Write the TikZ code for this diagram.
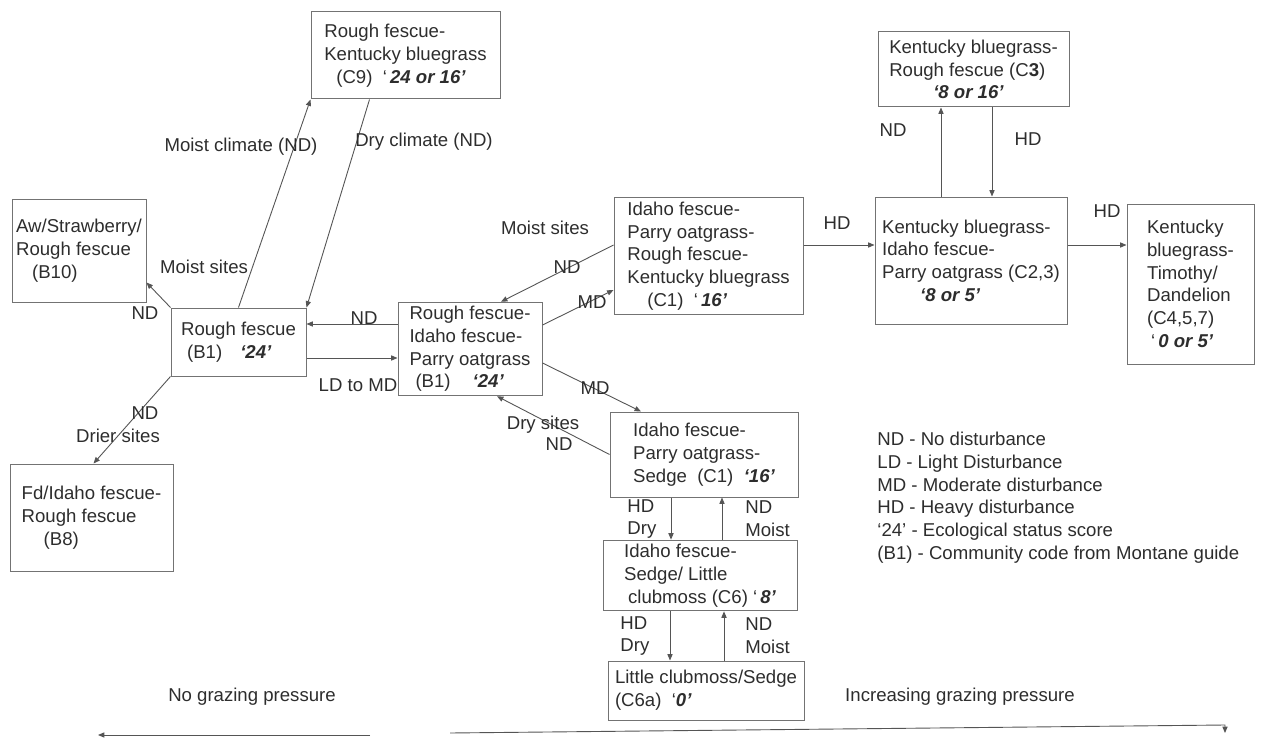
\documentclass[tikz,border=0pt]{standalone}
\usepackage{fontspec}
\setmainfont{Liberation Sans}
\usepackage{xcolor}
\usetikzlibrary{arrows.meta, positioning, calc}
\definecolor{line-grey}{RGB}{85,85,85}
\definecolor{box-grey}{RGB}{115,115,115}
\definecolor{text-grey}{RGB}{45,45,45}
\newcommand{\score}[1]{{\bfseries\itshape #1}}

\begin{document}
\begin{tikzpicture}[x=0.5pt, y=-0.5pt,
    font=\fontsize{9.3}{11.35}\selectfont,
    box/.style={rectangle, draw=box-grey, line width=0.5pt,
                align=left, inner sep=2pt, text=text-grey},
    lbl/.style={inner sep=0pt, text=text-grey},
    arr/.style={-{Triangle[length=3.2pt, width=2.6pt]}, line width=0.45pt, color=line-grey}
  ]
  \useasboundingbox (0,0) rectangle (1264,738);

  % communities
  \node[box, minimum width=94.5pt, minimum height=43.5pt] (c9) at (405.5,55.5)
    {Rough fescue-\\Kentucky bluegrass\\\hspace*{6pt}(C9)\ \ `\,\score{24 or 16'}};
  \node[box, minimum width=67pt, minimum height=51.5pt] (b10) at (79,250.5)
    {Aw/Strawberry/\\Rough fescue\\\hspace*{8pt}(B10)};
  \node[box, minimum width=67.5pt, minimum height=34pt] (b1) at (238.5,342)
    {Rough fescue\\\hspace*{3pt}(B1)\hspace{9pt}\score{`24'}};
  \node[box, minimum width=72pt, minimum height=46pt] (mid) at (470,349)
    {Rough fescue-\\Idaho fescue-\\Parry oatgrass\\\hspace*{3pt}(B1)\hspace{11pt}\score{`24'}};
  \node[box, minimum width=94.5pt, minimum height=57pt] (c1k) at (708.5,256)
    {Idaho fescue-\\Parry oatgrass-\\Rough fescue-\\Kentucky bluegrass\\\hspace*{10pt}(C1)\ \ `\,\score{16'}};
  \node[box, minimum width=95.5pt, minimum height=37.5pt] (c3) at (973.5,69.5)
    {Kentucky bluegrass-\\Rough fescue (C\textbf{3})\\\hspace*{22pt}\score{`8 or 16'}};
  \node[box, minimum width=96pt, minimum height=63.5pt] (c23) at (971,260.5)
    {Kentucky bluegrass-\\Idaho fescue-\\Parry oatgrass (C2,3)\\\hspace*{19pt}\score{`8 or 5'}};
  \node[box, minimum width=63.5pt, minimum height=80pt] (c457) at (1190.5,284)
    {Kentucky\\bluegrass-\\Timothy/\\Dandelion\\(C4,5,7)\\\hspace*{2pt}`\,\score{0 or 5'}};
  \node[box, minimum width=81.5pt, minimum height=53.5pt] (b8) at (91.5,517.5)
    {Fd/Idaho fescue-\\Rough fescue\\\hspace*{11pt}(B8)};
  \node[box, minimum width=94pt, minimum height=42.5pt] (c1s) at (704,454.5)
    {Idaho fescue-\\Parry oatgrass-\\Sedge\ \ (C1)\ \ \score{`16'}};
  \node[box, minimum width=97pt, minimum height=34.5pt] (c6) at (700,575.5)
    {Idaho fescue-\\Sedge/ Little\\\hspace*{2pt}clubmoss (C6) `\,\score{8'}};
  \node[box, minimum width=98pt, minimum height=29.5pt] (c6a) at (706,690.5)
    {Little clubmoss/Sedge\\(C6a)\ \ `\score{0'}};

  % transitions
  \draw[arr] (b1.north) -- (c9.south west);
  \draw[arr] ([xshift=-18pt]c9.south) -- (b1.north east);
  \draw[arr] (b1.north west) -- ([yshift=-16pt]b10.east);
  \draw[arr] ([yshift=12.5pt]mid.west) -- ([yshift=9pt]b1.east);
  \draw[arr] ([yshift=-8pt]b1.east) -- ([yshift=-4.5pt]mid.west);
  \draw[arr] (b1.south west) -- ([xshift=1pt]b8.north);
  \draw[arr] ([yshift=5.5pt]c1k.west) -- ([xshift=15.5pt]mid.north);
  \draw[arr] ([yshift=12pt]mid.east) -- ([yshift=-17pt]c1k.west);
  \draw[arr] ([yshift=-7pt]mid.east) -- ([xshift=-31.5pt]c1s.north);
  \draw[arr] (c1s.west) -- ([xshift=13.5pt]mid.south);
  \draw[arr] ([yshift=5.5pt]c1k.east) -- ([yshift=7.75pt]c23.west);
  \draw[arr] ([xshift=-15pt]c23.north) -- ([xshift=-16.25pt]c3.south);
  \draw[arr] ([xshift=9.25pt]c3.south) -- ([xshift=10.5pt]c23.north);
  \draw[arr] ([yshift=7.75pt]c23.east) -- ([yshift=19.5pt]c457.west);
  \draw[arr] ([xshift=-16.5pt]c1s.south) -- ([xshift=-14.5pt]c6.north);
  \draw[arr] ([xshift=11pt]c6.north) -- ([xshift=9pt]c1s.south);
  \draw[arr] ([xshift=-15pt]c6.south) -- ([xshift=-18pt]c6a.north);
  \draw[arr] ([xshift=9pt]c6a.north) -- ([xshift=12pt]c6.south);

  % transition labels
  \node[lbl] (l-mclim) at (241,147) {Moist climate (ND)};
  \node[lbl] (l-dclim) at (424,142) {Dry climate (ND)};
  \node[lbl] (l-msite1) at (204,267) {Moist sites};
  \node[lbl] (l-nd1) at (145,313) {ND};
  \node[lbl] (l-nd2) at (364,318) {ND};
  \node[lbl] (l-ldmd) at (358,385) {LD to MD};
  \node[lbl] (l-nd3) at (145,413) {ND};
  \node[lbl] (l-drier) at (118,436) {Drier sites};
  \node[lbl] (l-msite2) at (545,228) {Moist sites};
  \node[lbl] (l-nd4) at (567,267) {ND};
  \node[lbl] (l-md1) at (592,302) {MD};
  \node[lbl] (l-md2) at (595,388) {MD};
  \node[lbl] (l-dry) at (543,425) {Dry sites};
  \node[lbl] (l-nd5) at (559,444) {ND};
  \node[lbl] (l-hd1) at (837,223) {HD};
  \node[lbl] (l-nd6) at (893,130) {ND};
  \node[lbl] (l-hd2) at (1028,139) {HD};
  \node[lbl] (l-hd3) at (1107,211) {HD};
  \node[lbl, align=left, anchor=west] (l-hd4) at (627,519) {HD\\Dry};
  \node[lbl, align=left, anchor=west] (l-nd7) at (745,519) {ND\\Moist};
  \node[lbl, align=left, anchor=west] (l-hd5) at (620,636) {HD\\Dry};
  \node[lbl, align=left, anchor=west] (l-nd8) at (745,636) {ND\\Moist};

  % legend
  \node[lbl, align=left, anchor=north west] (legend) at (877,432)
    {ND - No disturbance\\LD - Light Disturbance\\MD - Moderate disturbance\\HD - Heavy disturbance\\`24' - Ecological status score\\(B1) - Community code from Montane guide};

  % grazing pressure
  \node[lbl] (nograze) at (252,697) {No grazing pressure};
  \node[lbl] (incgraze) at (960,697) {Increasing grazing pressure};
  \coordinate (gl-start) at (370,735);
  \coordinate (gl-end) at (98,735);
  \coordinate (gr-start) at (450,733);
  \coordinate (gr-bend) at (1225,725);
  \draw[arr] (gl-start) -- (gl-end);
  \draw[arr] (gr-start) -- (gr-bend) -- ++(0,8);
\end{tikzpicture}
\end{document}
